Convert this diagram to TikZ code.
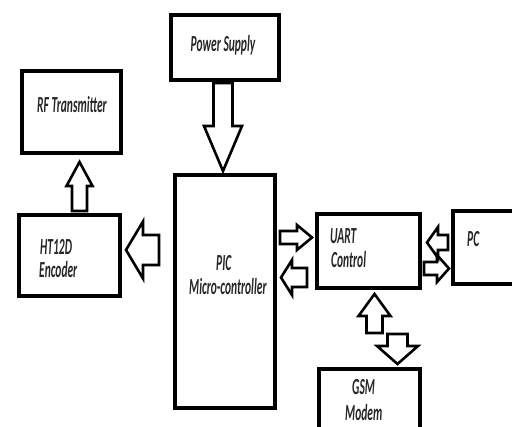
\documentclass[tikz,border=0pt]{standalone}
\usepackage{fontspec}
\usepackage{graphicx}
\setmainfont{Carlito}
\newcommand{\myt}[1]{\scalebox{0.5}[1]{#1}}
\tikzset{
  box/.style={draw, line width=3.5pt, inner sep=0pt},
  txt/.style={font=\fontsize{23}{24}\selectfont\bfseries\itshape, inner sep=0pt, text=black!85},
  arrowline/.style={draw, line width=2.6pt, line join=miter},
  pics/barrow/.style n args={4}{code={
    \draw[arrowline] (0,{-#2/2}) -- ({#1-#4},{-#2/2}) -- ({#1-#4},{-#3/2}) -- (#1,0)
      -- ({#1-#4},{#3/2}) -- ({#1-#4},{#2/2}) -- (0,{#2/2}) -- cycle;}}
}
\begin{document}
\begin{tikzpicture}[x=1pt,y=-1pt]
\useasboundingbox (0,0) rectangle (512,427);
% boxes
\node[box, minimum width=108pt, minimum height=65pt] (pow) at (225,47.5) {};
\node[box, minimum width=99pt, minimum height=82pt] (rf) at (71.5,112) {};
\node[box, minimum width=101pt, minimum height=81pt] (ht) at (69.5,255.5) {};
\node[box, minimum width=100pt, minimum height=233pt] (pic) at (225,291.5) {};
\node[box, minimum width=103pt, minimum height=74pt] (uart) at (368.5,251) {};
\node[box, minimum width=80pt, minimum height=73pt] (pc) at (493,247.5) {};
\node[box, minimum width=101pt, minimum height=80pt] (gsm) at (369.5,409) {};
% texts
\node[txt, anchor=base] (powt) at (223,51.5) {\myt{Power Supply}};
\node[txt, anchor=base] (rft) at (72,113) {\myt{RF Transmitter}};
\node[txt, anchor=base west] (htt1) at (40,255) {\myt{HT12D}};
\node[txt, anchor=base west] (htt2) at (39,278) {\myt{Encoder}};
\node[txt, anchor=base west] (pict1) at (216,271) {\myt{PIC}};
\node[txt, anchor=base west] (pict2) at (189,295) {\myt{Micro-controller}};
\node[txt, anchor=base west] (uartt1) at (330,244) {\myt{UART}};
\node[txt, anchor=base west] (uartt2) at (331,268) {\myt{Control}};
\node[txt, anchor=base west] (pct) at (467,247) {\myt{PC}};
\node[txt, anchor=base west] (gsmt1) at (352,395) {\myt{GSM}};
\node[txt, anchor=base west] (gsmt2) at (345,421) {\myt{Modem}};
% block arrows
\pic[rotate=-90] at (223,83) {barrow={88}{19}{38}{45}};
\pic[rotate=90] at (79.5,211) {barrow={49}{15}{26}{24}};
\pic[rotate=180] at (159,250) {barrow={33}{30}{57}{17}};
\pic at (280,237.5) {barrow={32}{13}{25}{15}};
\pic[rotate=180] at (307,277.5) {barrow={26}{19}{35}{11}};
\pic[rotate=180] at (448,242.5) {barrow={21}{15}{31}{11}};
\pic at (424,268.5) {barrow={25}{13}{27}{12}};
\pic[rotate=90] at (374.5,333) {barrow={39}{16}{32}{22}};
\pic[rotate=-90] at (397.5,334) {barrow={30}{20}{41}{18}};
\end{tikzpicture}
\end{document}
